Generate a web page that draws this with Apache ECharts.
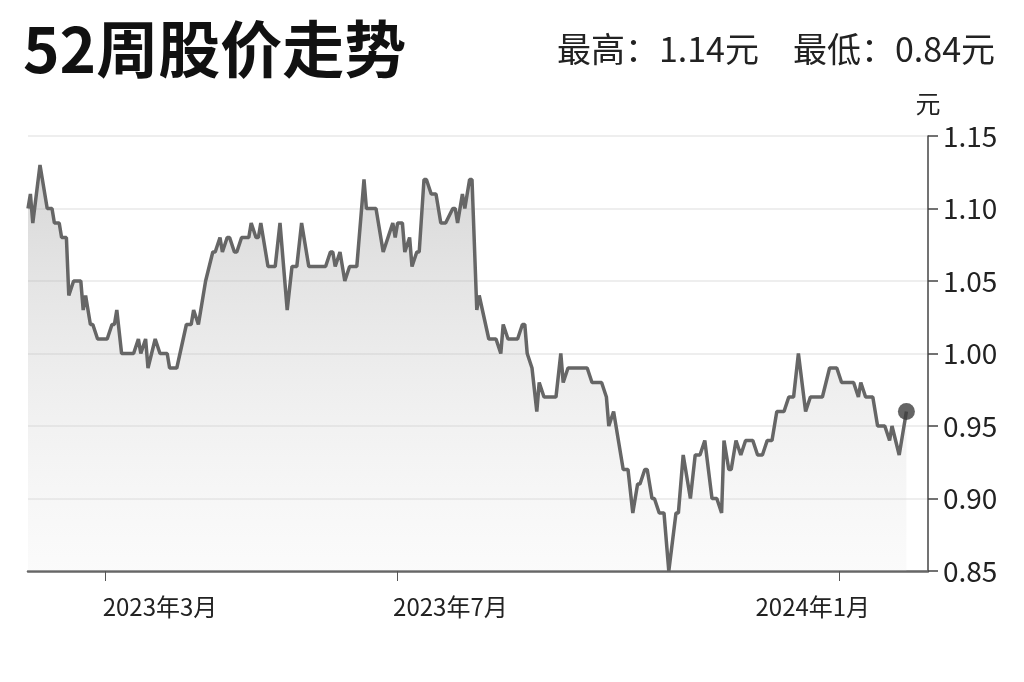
<!DOCTYPE html>
<html>
<head>
<meta charset="utf-8">
<script src="https://cdn.jsdelivr.net/npm/echarts@6/dist/echarts.min.js"></script>
<style>
    html, body { margin: 0; padding: 0; background: #fff; }
    #main { width: 1024px; height: 682px; }
</style>
</head>
<body>
<div id="main"></div>
<script>
    // daily closing prices (yuan)
    var dates = [
        '2023-01-28', '2023-01-29', '2023-01-30', '2023-02-02', '2023-02-03', '2023-02-05', '2023-02-07', '2023-02-08',
        '2023-02-10', '2023-02-11', '2023-02-13', '2023-02-14', '2023-02-16', '2023-02-19', '2023-02-20', '2023-02-21',
        '2023-02-23', '2023-02-24', '2023-02-26', '2023-03-02', '2023-03-04', '2023-03-05', '2023-03-06', '2023-03-08',
        '2023-03-13', '2023-03-15', '2023-03-16', '2023-03-18', '2023-03-19', '2023-03-22', '2023-03-24', '2023-03-27',
        '2023-03-28', '2023-03-31', '2023-04-04', '2023-04-06', '2023-04-07', '2023-04-09', '2023-04-11', '2023-04-12',
        '2023-04-15', '2023-04-16', '2023-04-18', '2023-04-19', '2023-04-21', '2023-04-22', '2023-04-24', '2023-04-25',
        '2023-04-27', '2023-04-30', '2023-05-01', '2023-05-03', '2023-05-04', '2023-05-05', '2023-05-08', '2023-05-11',
        '2023-05-13', '2023-05-16', '2023-05-18', '2023-05-20', '2023-05-22', '2023-05-25', '2023-06-01', '2023-06-03',
        '2023-06-04', '2023-06-05', '2023-06-07', '2023-06-09', '2023-06-11', '2023-06-14', '2023-06-17', '2023-06-18',
        '2023-06-22', '2023-06-25', '2023-06-29', '2023-06-30', '2023-07-01', '2023-07-03', '2023-07-04', '2023-07-06',
        '2023-07-07', '2023-07-09', '2023-07-10', '2023-07-12', '2023-07-13', '2023-07-15', '2023-07-17', '2023-07-19',
        '2023-07-21', '2023-07-24', '2023-07-25', '2023-07-26', '2023-07-28', '2023-07-29', '2023-07-31', '2023-08-01',
        '2023-08-03', '2023-08-04', '2023-08-08', '2023-08-11', '2023-08-13', '2023-08-14', '2023-08-16', '2023-08-20',
        '2023-08-22', '2023-08-23', '2023-08-24', '2023-08-26', '2023-08-28', '2023-08-29', '2023-08-31', '2023-09-05',
        '2023-09-07', '2023-09-08', '2023-09-10', '2023-09-18', '2023-09-20', '2023-09-24', '2023-09-26', '2023-09-27',
        '2023-09-29', '2023-10-01', '2023-10-03', '2023-10-05', '2023-10-07', '2023-10-09', '2023-10-10', '2023-10-12',
        '2023-10-13', '2023-10-15', '2023-10-16', '2023-10-18', '2023-10-20', '2023-10-22', '2023-10-25', '2023-10-26',
        '2023-10-28', '2023-10-31', '2023-11-02', '2023-11-04', '2023-11-06', '2023-11-09', '2023-11-11', '2023-11-13',
        '2023-11-14', '2023-11-16', '2023-11-17', '2023-11-19', '2023-11-21', '2023-11-23', '2023-11-26', '2023-11-28',
        '2023-11-30', '2023-12-02', '2023-12-04', '2023-12-06', '2023-12-09', '2023-12-11', '2023-12-13', '2023-12-15',
        '2023-12-18', '2023-12-20', '2023-12-25', '2023-12-28', '2023-12-31', '2024-01-02', '2024-01-07', '2024-01-09',
        '2024-01-10', '2024-01-12', '2024-01-15', '2024-01-17', '2024-01-20', '2024-01-22', '2024-01-23', '2024-01-26',
        '2024-01-29'
    ];
    var prices = [
        1.10, 1.11, 1.09, 1.13, 1.12, 1.10, 1.10, 1.09,
        1.09, 1.08, 1.08, 1.04, 1.05, 1.05, 1.03, 1.04,
        1.02, 1.02, 1.01, 1.01, 1.02, 1.02, 1.03, 1.00,
        1.00, 1.01, 1.00, 1.01, 0.99, 1.01, 1.00, 1.00,
        0.99, 0.99, 1.02, 1.02, 1.03, 1.02, 1.04, 1.05,
        1.07, 1.07, 1.08, 1.07, 1.08, 1.08, 1.07, 1.07,
        1.08, 1.08, 1.09, 1.08, 1.08, 1.09, 1.06, 1.06,
        1.09, 1.03, 1.06, 1.06, 1.09, 1.06, 1.06, 1.07,
        1.07, 1.06, 1.07, 1.05, 1.06, 1.06, 1.12, 1.10,
        1.10, 1.07, 1.09, 1.08, 1.09, 1.09, 1.07, 1.08,
        1.06, 1.07, 1.07, 1.12, 1.12, 1.11, 1.11, 1.09,
        1.09, 1.10, 1.10, 1.09, 1.11, 1.10, 1.12, 1.12,
        1.03, 1.04, 1.01, 1.01, 1.00, 1.02, 1.01, 1.01,
        1.02, 1.02, 1.00, 0.99, 0.96, 0.98, 0.97, 0.97,
        1.00, 0.98, 0.99, 0.99, 0.98, 0.98, 0.97, 0.95,
        0.96, 0.94, 0.92, 0.92, 0.89, 0.91, 0.91, 0.92,
        0.92, 0.90, 0.90, 0.89, 0.89, 0.85, 0.89, 0.89,
        0.93, 0.90, 0.93, 0.93, 0.94, 0.90, 0.90, 0.89,
        0.94, 0.92, 0.92, 0.94, 0.93, 0.94, 0.94, 0.93,
        0.93, 0.94, 0.94, 0.96, 0.96, 0.97, 0.97, 1.00,
        0.96, 0.97, 0.97, 0.99, 0.99, 0.98, 0.98, 0.97,
        0.98, 0.97, 0.97, 0.95, 0.95, 0.94, 0.95, 0.93,
        0.96
    ];

    // x axis: tick dates, their labels, and where each label sits
    var tickDates = ['2023-03-01', '2023-07-01', '2024-01-01'];
    var tickLabels = ['2023年3月', '2023年7月', '2024年1月'];
    var labelDates = ['2023-03-24', '2023-07-23', '2023-12-21'];

    var axisStart = '2023-01-28';
    var axisEnd = '2024-02-07';

    var titleText = '52周股价走势';
    var rangeText = '最高：1.14元　最低：0.84元';
    var unitText = '元';

    var FONT = '"Noto Sans CJK SC", "Noto Sans", sans-serif';

    function toTime(s) {
        var p = s.split('-');
        return new Date(+p[0], +p[1] - 1, +p[2]).getTime();
    }

    var chart = echarts.init(document.getElementById('main'));

    var lineData = dates.map(function (d, i) { return [toTime(d), prices[i]]; });
    var lastPoint = lineData[lineData.length - 1];
    var tickTimes = tickDates.map(toTime);
    var labelTimes = labelDates.map(toTime);

    var option = {
        backgroundColor: '#ffffff',
        animation: false,
        title: [{
            text: titleText,
            left: 18,
            top: 13,
            textStyle: { fontFamily: FONT, fontSize: 62, fontWeight: 'bold', color: '#111' }
        }, {
            text: rangeText,
            right: 24,
            top: 27,
            textStyle: { fontFamily: FONT, fontSize: 34, fontWeight: 'normal', color: '#222' }
        }],
        grid: { left: 28, right: 96, top: 136, bottom: 111 },
        xAxis: {
            type: 'value',
            min: toTime(axisStart),
            max: toTime(axisEnd),
            axisLine: { show: true, onZero: false, lineStyle: { color: '#666', width: 2.5 } },
            axisTick: {
                show: true,
                customValues: tickTimes,
                length: 10,
                lineStyle: { color: '#555', width: 1 }
            },
            axisLabel: {
                customValues: labelTimes,
                margin: 24,
                fontFamily: FONT,
                fontSize: 24,
                color: '#222',
                formatter: function (value) {
                    var best = 0;
                    for (var i = 1; i < labelTimes.length; i++) {
                        if (Math.abs(labelTimes[i] - value) < Math.abs(labelTimes[best] - value)) best = i;
                    }
                    return tickLabels[best];
                }
            },
            splitLine: { show: false }
        },
        yAxis: {
            type: 'value',
            position: 'right',
            min: 0.85,
            max: 1.15,
            interval: 0.05,
            name: unitText,
            nameLocation: 'end',
            nameGap: 20,
            nameTextStyle: { fontFamily: FONT, fontSize: 25, color: '#222', align: 'center' },
            axisLine: { show: true, lineStyle: { color: '#444', width: 1.5 } },
            axisTick: { show: true, inside: false, length: 10, lineStyle: { color: '#444', width: 1.5 } },
            axisLabel: {
                margin: 15,
                fontFamily: FONT,
                fontSize: 28,
                color: '#222',
                formatter: function (v) { return v.toFixed(2); }
            },
            splitLine: { show: true, lineStyle: { color: '#e8e8e8', width: 1.5 } }
        },
        series: [{
            type: 'line',
            data: lineData,
            showSymbol: false,
            symbol: 'none',
            lineStyle: { color: '#666', width: 3.5 },
            areaStyle: {
                origin: 'start',
                color: new echarts.graphic.LinearGradient(0, 0, 0, 1, [
                    { offset: 0, color: 'rgba(150,150,150,0.55)' },
                    { offset: 1, color: 'rgba(230,230,230,0.25)' }
                ])
            },
            z: 3
        }, {
            type: 'scatter',
            data: [lastPoint],
            symbolSize: 17,
            itemStyle: { color: '#3d3d3d' },
            z: 5
        }]
    };

    chart.setOption(option);
</script>
</body>
</html>
